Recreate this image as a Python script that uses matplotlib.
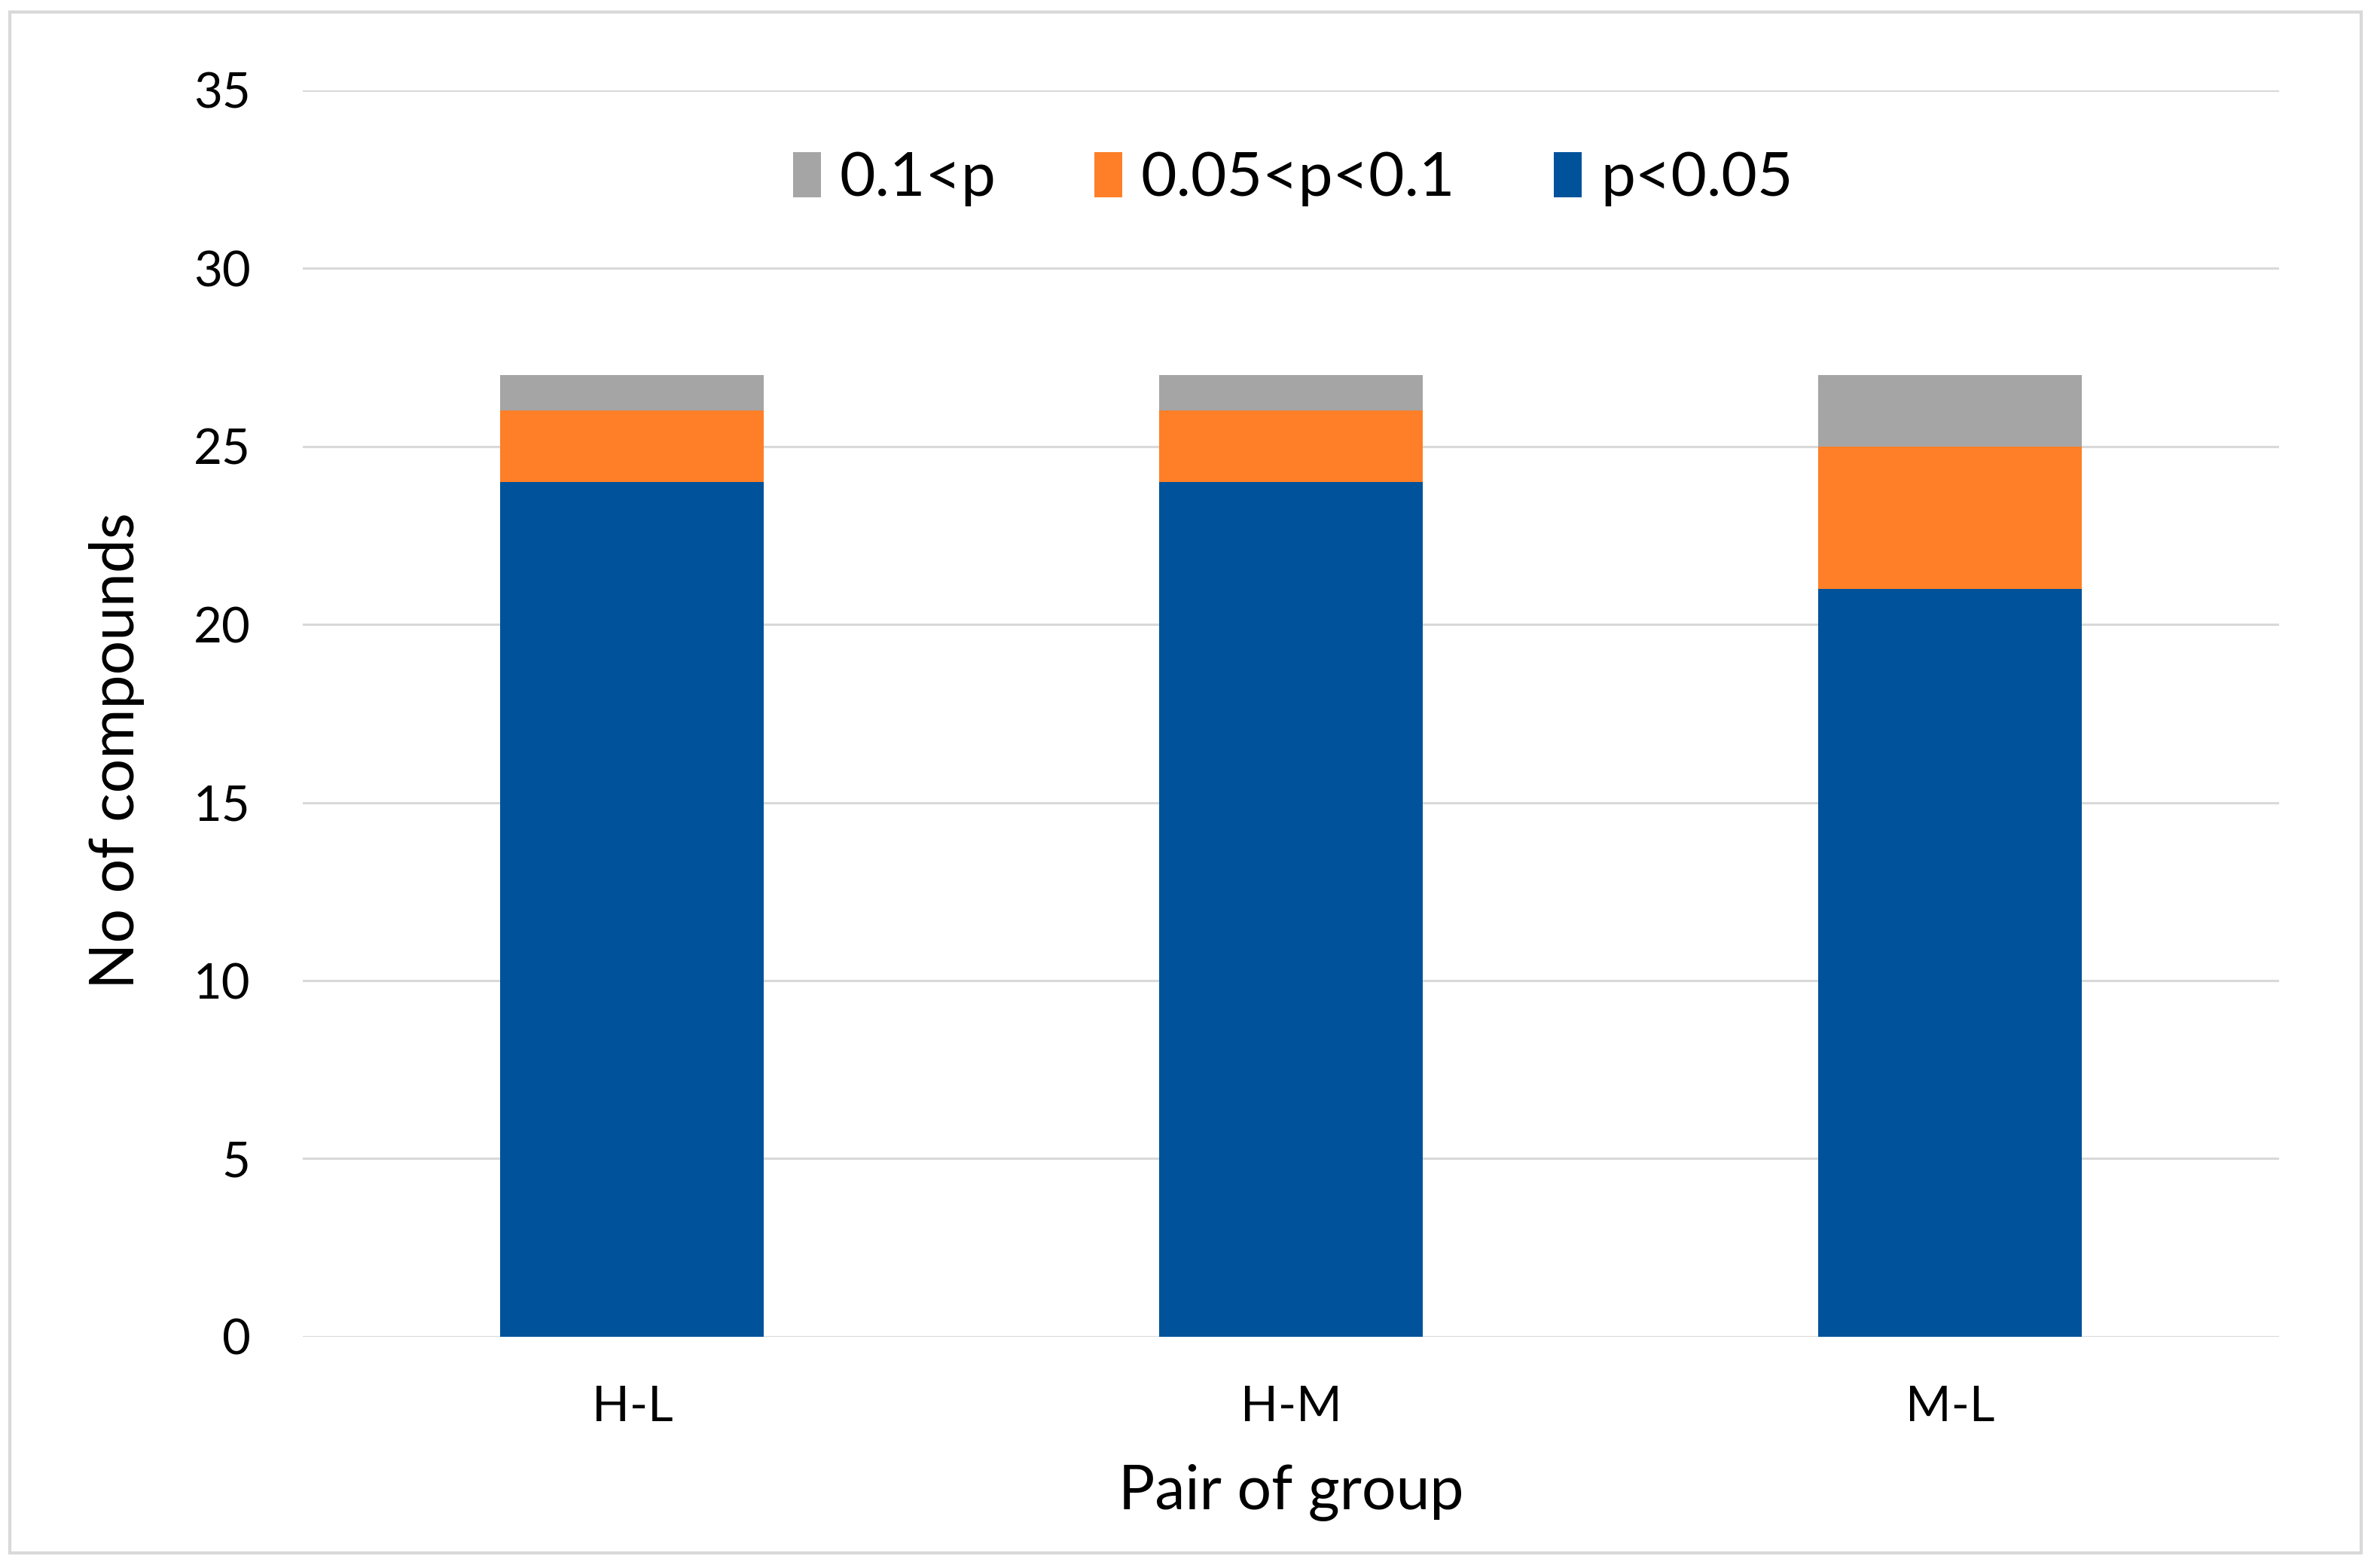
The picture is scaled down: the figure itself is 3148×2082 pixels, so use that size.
import matplotlib
matplotlib.use("Agg")
import matplotlib.pyplot as plt
from matplotlib.patches import Rectangle

plt.rcParams["font.family"] = ["Lato", "DejaVu Sans"]

# ---- data ----
pairs = ["H-L", "H-M", "M-L"]
sig_005 = [24, 24, 21]      # p<0.05
sig_01 = [2, 2, 4]          # 0.05<p<0.1
not_sig = [1, 1, 2]         # 0.1<p
yticks = [0, 5, 10, 15, 20, 25, 30, 35]

BLUE = "#00529b"
ORANGE = "#fe7f27"
GRAY = "#a5a5a5"
GRID = "#d9d9d9"

fig = plt.figure(figsize=(31.48, 20.82), dpi=100)
ax = fig.add_axes([0.1277, 0.1475, 0.8336, 0.7949])

x = range(len(pairs))
b1 = ax.bar(x, sig_005, width=0.4, color=BLUE, label="p<0.05", zorder=3)
bottom2 = sig_005
b2 = ax.bar(x, sig_01, width=0.4, bottom=bottom2, color=ORANGE, label="0.05<p<0.1", zorder=3)
bottom3 = [a + b for a, b in zip(sig_005, sig_01)]
b3 = ax.bar(x, not_sig, width=0.4, bottom=bottom3, color=GRAY, label="0.1<p", zorder=3)

ax.set_xlim(-0.5, 2.5)
ax.set_ylim(0, 35)
ax.set_yticks(yticks)
ax.set_xticks(list(x))
ax.set_xticklabels(pairs)
ax.yaxis.grid(True, color=GRID, linewidth=2.2, zorder=0)
ax.set_axisbelow(True)
for s in ax.spines.values():
    s.set_visible(False)
ax.tick_params(axis="both", length=0, labelsize=47, colors="#000000")
ax.tick_params(axis="y", pad=50)
ax.tick_params(axis="x", pad=46)

ax.set_xlabel("Pair of group", fontsize=58, labelpad=33)
ax.set_ylabel("No of compounds", fontsize=58)
ax.yaxis.set_label_coords(-0.080, 0.47)

ax.legend(handles=[b3, b2, b1], loc="center", bbox_to_anchor=(0.501, 0.929),
          ncol=3, frameon=False, fontsize=59, handlelength=0.45, handleheight=0.75,
          handletextpad=0.3, columnspacing=1.6)

# outer chart border
fig.patches.append(Rectangle((13 / 3148, 1 - 2062 / 2082), (3135 - 13) / 3148, (2062 - 16) / 2082,
                             transform=fig.transFigure, fill=False, edgecolor=GRID, linewidth=3))

plt.savefig("out.png", dpi=100)
plt.close()
